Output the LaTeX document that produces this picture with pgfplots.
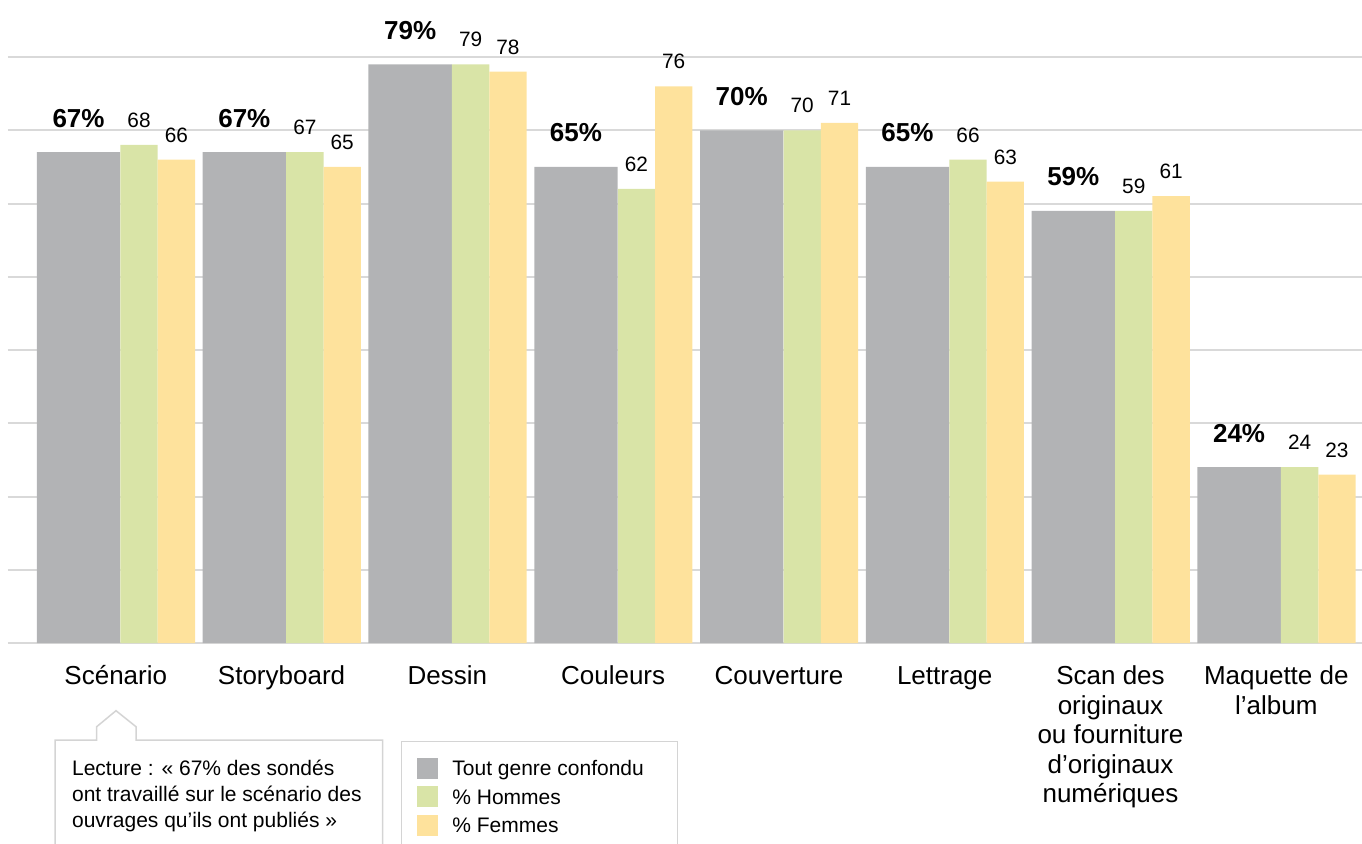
\documentclass[border=0pt]{standalone}
\usepackage{fontspec}
\setmainfont{Liberation Sans}
\usepackage{pgfplots}
\pgfplotsset{compat=1.18}
\definecolor{cgray}{HTML}{B2B3B5}
\definecolor{cgreen}{HTML}{D9E4A7}
\definecolor{cyellow}{HTML}{FEE29C}
\definecolor{cgrid}{HTML}{D9D9D9}
\definecolor{cbox}{HTML}{D4D4D4}
\newcommand{\cs}{\rule{0pt}{10.5pt}}
\begin{document}
\begin{tikzpicture}
\useasboundingbox (-4pt,-100pt) rectangle (677pt,321.5pt);
\begin{axis}[
  at={(0pt,0pt)}, anchor=south west,
  scale only axis, width=677pt, height=293pt,
  xmin=-0.65, xmax=7.517, ymin=0, ymax=80,
  clip=false,
  /pgf/number format/assume math mode=true,
  axis line style={draw=none},
  major tick length=0pt,
  ytick={0,10,...,80}, yticklabels={},
  ymajorgrids, grid style={cgrid, line width=1pt},
  xtick={0,...,7},
  xticklabels={\cs Scénario, \cs Storyboard, \cs Dessin, \cs Couleurs, \cs Couverture, \cs Lettrage,
    {\cs Scan des\\originaux\\ou fourniture\\d’originaux\\numériques}, {\cs Maquette de\\l’album}},
  xticklabel style={anchor=north, inner sep=0pt, yshift=-10pt, align=center,
    font=\fontsize{13}{14.8}\selectfont},
  legend style={at={(0.29,-0.1667)}, anchor=north west, draw=cbox, line width=0.75pt,
    inner xsep=7.65pt, inner ysep=8.3pt, row sep=3.1pt, column sep=7pt,
    font=\fontsize{10.5}{13}\selectfont,
    nodes={inner sep=0pt, text height=8.35pt, text depth=2.15pt, yshift=2.5pt}},
  legend cell align=left,
  legend image code/.code={\fill[#1] (0pt,-2.15pt) rectangle (10.85pt,8.35pt);},
]
\addplot[ybar, fill=cgray, draw=none, bar width=41.65pt, bar shift=-18.6pt,
  nodes near coords={\bfseries\pgfmathprintnumber{\pgfplotspointmeta}\%},
  nodes near coords style={font=\fontsize{13}{15}\selectfont, anchor=base, inner sep=0pt, xshift=-18.6pt, yshift=12.5pt, text=black}]
  coordinates {(0,67) (1,67) (2,79) (3,65) (4,70) (5,65) (6,59) (7,24)};
\addlegendentry{\makebox[104.85pt][l]{Tout genre confondu}}
\addplot[ybar, fill=cgreen, draw=none, bar width=18.65pt, bar shift=11.65pt,
  nodes near coords,
  nodes near coords style={font=\fontsize{10.4}{12}\selectfont, anchor=base, inner sep=0pt, xshift=11.65pt, yshift=8.75pt, text=black}]
  coordinates {(0,68) (1,67) (2,79) (3,62) (4,70) (5,66) (6,59) (7,24)};
\addlegendentry{\makebox[104.85pt][l]{\% Hommes}}
\addplot[ybar, fill=cyellow, draw=none, bar width=18.65pt, bar shift=30.3pt,
  nodes near coords,
  nodes near coords style={font=\fontsize{10.4}{12}\selectfont, anchor=base, inner sep=0pt, xshift=30.3pt, yshift=8.75pt, text=black}]
  coordinates {(0,66) (1,65) (2,78) (3,76) (4,71) (5,63) (6,61) (7,23)};
\addlegendentry{\makebox[104.85pt][l]{\% Femmes}}
\end{axis}
\draw[cbox, line width=0.75pt] (23.5pt,-103.5pt) -- (23.5pt,-48.5pt) -- (44.35pt,-48.5pt) -- (44.35pt,-41.85pt)
  -- (54pt,-33.85pt) -- (64pt,-41.85pt) -- (64pt,-48.5pt) -- (187.35pt,-48.5pt) -- (187.35pt,-103.5pt);
\begin{scope}[every node/.style={anchor=base west, inner sep=0pt, font=\fontsize{10.5}{13}\selectfont}]
\node at (31.85pt,-66pt) {Lecture : « 67\% des sondés};
\node at (31.85pt,-79pt) {ont travaillé sur le scénario des};
\node at (31.85pt,-92pt) {ouvrages qu’ils ont publiés »};
\end{scope}
\end{tikzpicture}
\end{document}
